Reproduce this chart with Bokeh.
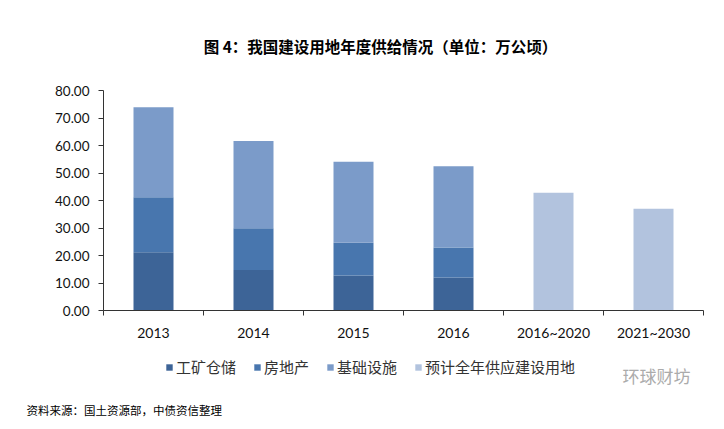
from bokeh.plotting import figure
from bokeh.models import (ColumnDataSource, Legend, LegendItem, Label, FixedTicker,
                          NumeralTickFormatter, Range1d)
from bokeh.embed import file_html
from bokeh.resources import INLINE

categories = ["2013", "2014", "2015", "2016", "2016~2020", "2021~2030"]
mining = [21.2, 14.7, 12.7, 12.0, 0, 0]
realestate = [20.0, 15.2, 11.9, 10.9, 0, 0]
infra = [32.7, 31.7, 29.5, 29.6, 0, 0]
forecast = [0, 0, 0, 0, 42.8, 37.0]
series_names = ["工矿仓储", "房地产", "基础设施", "预计全年供应建设用地"]
colors = ["#3d6497", "#4876ae", "#7b9bc9", "#b2c3de"]
y_ticks = [0, 10, 20, 30, 40, 50, 60, 70, 80]

xs = [i + 0.5 for i in range(len(categories))]
source = ColumnDataSource(dict(x=xs, mining=mining, realestate=realestate,
                               infra=infra, forecast=forecast))

W, H = 724, 429
# frame fills the whole canvas; axes are pinned at x=0 / y=0 with bounds
px_per_cat = 100.0
left_px, bottom_px = 103.0, 119.0
px_per_unit = 2.75
x0 = -left_px / px_per_cat
x1 = (W - left_px) / px_per_cat
y0 = -bottom_px / px_per_unit
y1 = (H - bottom_px) / px_per_unit

p = figure(width=W, height=H, output_backend="svg", toolbar_location=None,
           x_range=Range1d(x0, x1), y_range=Range1d(y0, y1),
           min_border=0)
p.outline_line_color = None
p.xgrid.visible = False
p.ygrid.visible = False
p.background_fill_color = "white"
p.border_fill_color = "white"

renderers = p.vbar_stack(["mining", "realestate", "infra", "forecast"], x="x", width=0.4,
                         color=colors, line_color=None, source=source)

# axes
ax = p.xaxis[0]
ax.fixed_location = 0
ax.bounds = (0, len(categories))
ax.ticker = FixedTicker(ticks=xs, minor_ticks=list(range(len(categories) + 1)))
ax.major_label_overrides = {x: c for x, c in zip(xs, categories)}
ax.major_tick_line_color = None
ax.major_tick_out = 0
ax.major_tick_in = 0
ax.minor_tick_line_color = "#333333"
ax.minor_tick_out = 5
ax.minor_tick_in = 0
ax.axis_line_color = "#333333"
ax.major_label_standoff = 8
ax.major_label_text_font = "Lato"
ax.major_label_text_font_size = "14px"
ax.major_label_text_color = "#111111"

ay = p.yaxis[0]
ay.fixed_location = 0
ay.bounds = (0, 80)
ay.ticker = FixedTicker(ticks=y_ticks)
ay.formatter = NumeralTickFormatter(format="0.00")
ay.major_tick_line_color = "#333333"
ay.major_tick_out = 5
ay.major_tick_in = 0
ay.minor_tick_line_color = None
ay.axis_line_color = "#333333"
ay.major_label_standoff = 9
ay.major_label_text_font = "Lato"
ay.major_label_text_font_size = "13.5px"
ay.major_label_text_color = "#111111"

legend = Legend(items=[LegendItem(label=n, renderers=[r]) for n, r in zip(series_names, renderers)],
                orientation="horizontal", location=(165, 52),
                background_fill_alpha=0, border_line_color=None,
                glyph_width=8, glyph_height=8, label_standoff=3, spacing=17,
                padding=0, margin=0,
                label_text_font="Noto Sans CJK SC", label_text_font_size="15px",
                label_text_color="#333333")
p.add_layout(legend)

title = Label(x=380, y=384, x_units="screen", y_units="screen",
              text="图 4：我国建设用地年度供给情况（单位：万公顷）",
              text_font="Noto Sans CJK SC", text_font_size="15.5px", text_font_style="bold",
              text_align="center", text_baseline="middle", text_color="#000000")
p.add_layout(title)

src = Label(x=26, y=20, x_units="screen", y_units="screen",
            text="资料来源：国土资源部，中债资信整理",
            text_font="Noto Sans CJK SC", text_font_size="11.5px",
            text_align="left", text_baseline="middle", text_color="#000000")
p.add_layout(src)

wm = Label(x=622, y=54, x_units="screen", y_units="screen",
           text="环球财坊", text_font="Noto Sans CJK SC", text_font_size="17px",
           text_align="left", text_baseline="middle", text_color="#ababab")
p.add_layout(wm)

open("out.html", "w").write(file_html(p, INLINE))
